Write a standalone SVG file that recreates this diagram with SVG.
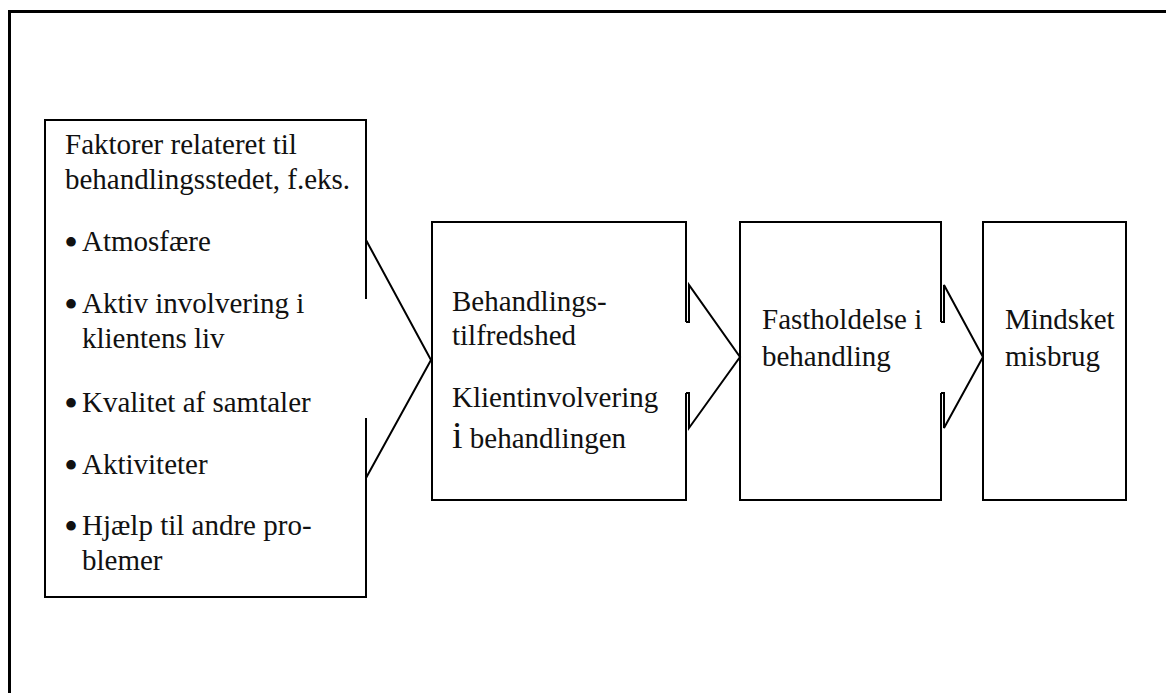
<svg xmlns="http://www.w3.org/2000/svg" width="1166" height="693" viewBox="0 0 1166 693">
<style>
.box{fill:none;stroke:#000;stroke-width:2}
.frame{fill:none;stroke:#000;stroke-width:3}
.con{fill:none;stroke:#000;stroke-width:2;stroke-linejoin:miter}
text{font-family:"Liberation Serif","Times New Roman",serif;font-size:29px;fill:#111}
.bul{font-size:40px}
</style>
<rect width="1166" height="693" fill="#fff"/>
<rect class="frame" x="9.5" y="11.5" width="1200" height="800"/>
<g id="node-factors">
<path class="box" d="M366,299 V120 H45 V597 H366 V418"/>
<text x="65" y="154">Faktorer relateret til</text>
<text x="65" y="189">behandlingsstedet, f.eks.</text>
<text class="bul" x="64" y="256">•</text><text x="82" y="251">Atmosfære</text>
<text class="bul" x="64" y="318">•</text><text x="82" y="313">Aktiv involvering i</text>
<text x="82" y="348">klientens liv</text>
<text class="bul" x="64" y="417">•</text><text x="82" y="412">Kvalitet af samtaler</text>
<text class="bul" x="64" y="479">•</text><text x="82" y="474">Aktiviteter</text>
<text class="bul" x="64" y="540">•</text><text x="82" y="535">Hjælp til andre pro-</text>
<text x="82" y="570">blemer</text>
</g>
<g id="node-satisfaction">
<path class="box" d="M686,322 V222 H432 V500 H686 V393"/>
<text x="452" y="311">Behandlings-</text>
<text x="452" y="345">tilfredshed</text>
<text x="452" y="407">Klientinvolvering</text>
<text x="452" y="448"><tspan font-size="38">i</tspan> behandlingen</text>
</g>
<g id="node-retention">
<path class="box" d="M941,322 V222 H740 V500 H941 V393"/>
<text x="762" y="329">Fastholdelse i</text>
<text x="762" y="366">behandling</text>
</g>
<g id="node-reduced">
<rect class="box" x="983" y="222" width="143" height="278"/>
<text x="1005" y="329">Mindsket</text>
<text x="1005" y="366">misbrug</text>
</g>
<g id="connectors">
<polyline class="con" points="366,240 431,360 366,478"/>
<polyline class="con" points="686,322 689,322 689,285 740,357 689,428 689,393 686,393"/>
<polyline class="con" points="941,322 944,322 944,285 983,357 944,428 944,393 941,393"/>
</g>
</svg>
